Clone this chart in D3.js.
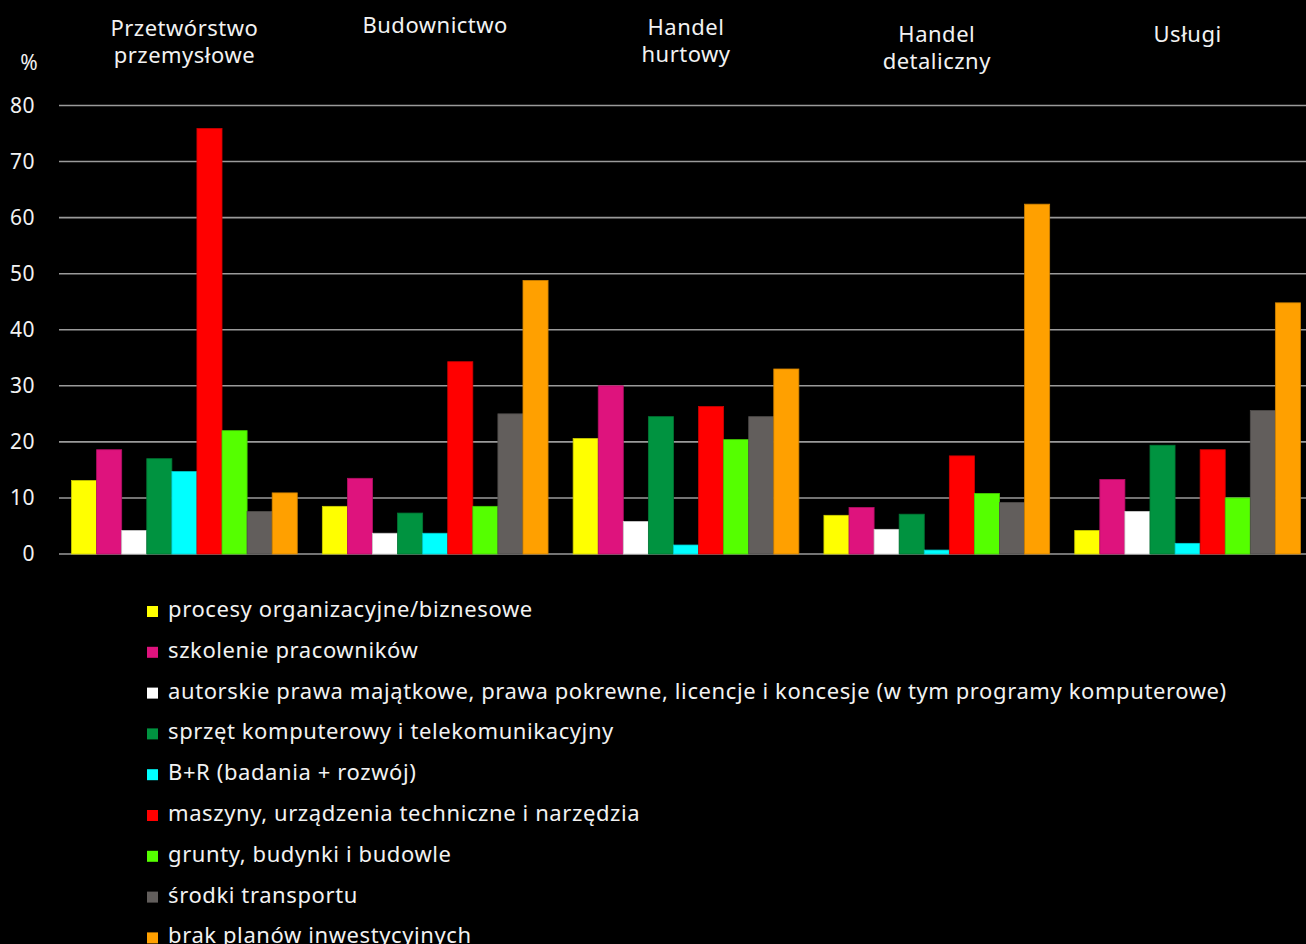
<!DOCTYPE html>
<html><head><meta charset="utf-8">
<script src="https://cdn.jsdelivr.net/npm/d3@7"></script>
<style>html,body{margin:0;background:#000;overflow:hidden;} svg{display:block;}</style>
</head><body><svg id="c" width="1306" height="944"></svg>
<script>
// ---------- DATA ----------
const categories = [["Przetwórstwo","przemysłowe"],["Budownictwo"],["Handel","hurtowy"],["Handel","detaliczny"],["Usługi"]];
const seriesNames = [
  "procesy organizacyjne/biznesowe",
  "szkolenie pracowników",
  "autorskie prawa majątkowe, prawa pokrewne, licencje i koncesje (w tym programy komputerowe)",
  "sprzęt komputerowy i telekomunikacyjny",
  "B+R (badania + rozwój)",
  "maszyny, urządzenia techniczne i narzędzia",
  "grunty, budynki i budowle",
  "środki transportu",
  "brak planów inwestycyjnych"
];
const procesy   = [13.1, 8.5, 20.6, 6.9, 4.2];
const szkolenie = [18.6, 13.5, 30.0, 8.3, 13.3];
const autorskie = [4.2, 3.7, 5.8, 4.4, 7.6];
const sprzet    = [17.0, 7.3, 24.5, 7.1, 19.4];
const br        = [14.7, 3.7, 1.6, 0.7, 1.9];
const maszyny   = [75.9, 34.3, 26.3, 17.5, 18.6];
const grunty    = [22.0, 8.5, 20.4, 10.8, 10.0];
const transport = [7.6, 25.0, 24.5, 9.2, 25.6];
const brak      = [10.9, 48.8, 33.0, 62.4, 44.8];
const yTicks = [0, 10, 20, 30, 40, 50, 60, 70, 80];
const yUnit = "%";

// ---------- STYLE / LAYOUT ----------
const seriesColors = ["#FFFF00","#DE137D","#FFFFFF","#009340","#00FFFF","#FF0000","#55FF00","#625E5C","#FFA000"];
const seriesValues = [procesy, szkolenie, autorskie, sprzet, br, maszyny, grunty, transport, brak];
const labelBaseline = [36, 33, 35, 42, 42];
const FONT = "'Noto Sans', sans-serif";
const TXT = "#f2f2f2";

const svg = d3.select("#c");
svg.append("rect").attr("width",1306).attr("height",944).attr("fill","#000");

const y = d3.scaleLinear().domain([0, 80]).range([554, 105.5]);
const x0 = d3.scaleBand().domain(d3.range(categories.length)).range([59, 1313]).paddingInner(0.1).paddingOuter(0.05);
const x1 = d3.scaleBand().domain(d3.range(seriesNames.length)).range([0, x0.bandwidth()]).padding(0);

// gridlines
svg.append("g").selectAll("line").data(yTicks).join("line")
  .attr("x1", 59).attr("x2", 1306)
  .attr("y1", d => y(d)).attr("y2", d => y(d))
  .attr("stroke", "#9a9a9a").attr("stroke-width", 1.6);

// y axis labels
const yAxis = d3.axisLeft(y).tickValues(yTicks).tickSize(0).tickPadding(0);
const gy = svg.append("g").attr("transform","translate(35,0)").call(yAxis);
gy.select(".domain").remove();
gy.selectAll("text").attr("fill", TXT).style("font-family", FONT).style("font-size","21px")
  .style("letter-spacing","0.5px").attr("dy","0.33em");

svg.append("text").attr("x", 29).attr("y", 70).attr("text-anchor","middle")
  .attr("fill", TXT).style("font-family", FONT).style("font-size","21px").text(yUnit);

// bars
const groups = svg.append("g").selectAll("g").data(categories.map((c,i)=>i)).join("g")
  .attr("transform", i => `translate(${x0(i)},0)`);
groups.selectAll("rect").data(ci => seriesValues.map((s, si) => ({si, v: s[ci]}))).join("rect")
  .attr("x", d => x1(d.si)).attr("width", x1.bandwidth())
  .attr("y", d => y(d.v)).attr("height", d => y(0) - y(d.v))
  .attr("fill", d => seriesColors[d.si])
  .attr("stroke", d => d3.color(seriesColors[d.si]).darker(0.6))
  .attr("stroke-width", 0.8);

// category labels
const cl = svg.append("g").selectAll("text").data(categories).join("text")
  .attr("x", (d,i) => x0(i) + x0.bandwidth()/2)
  .attr("y", (d,i) => labelBaseline[i])
  .attr("text-anchor","middle").attr("fill", TXT)
  .style("font-family", FONT).style("font-size","22px").style("letter-spacing","0.5px");
cl.selectAll("tspan").data(d => d).join("tspan")
  .attr("x", function(){ return this.parentNode.getAttribute("x"); })
  .attr("dy", (d,j) => j === 0 ? 0 : 27).text(d => d);

// legend
const lg = svg.append("g").selectAll("g").data(seriesNames).join("g")
  .attr("transform", (d,i) => `translate(147,${617 + i*40.8})`);
lg.append("rect").attr("x",0).attr("y",-11).attr("width",11).attr("height",11)
  .attr("fill", (d,i) => seriesColors[i]);
lg.append("text").attr("x", 21).attr("y", 0).attr("fill", TXT)
  .style("font-family", FONT).style("font-size","22px").style("letter-spacing","0.6px").text(d => d);
</script></body></html>
